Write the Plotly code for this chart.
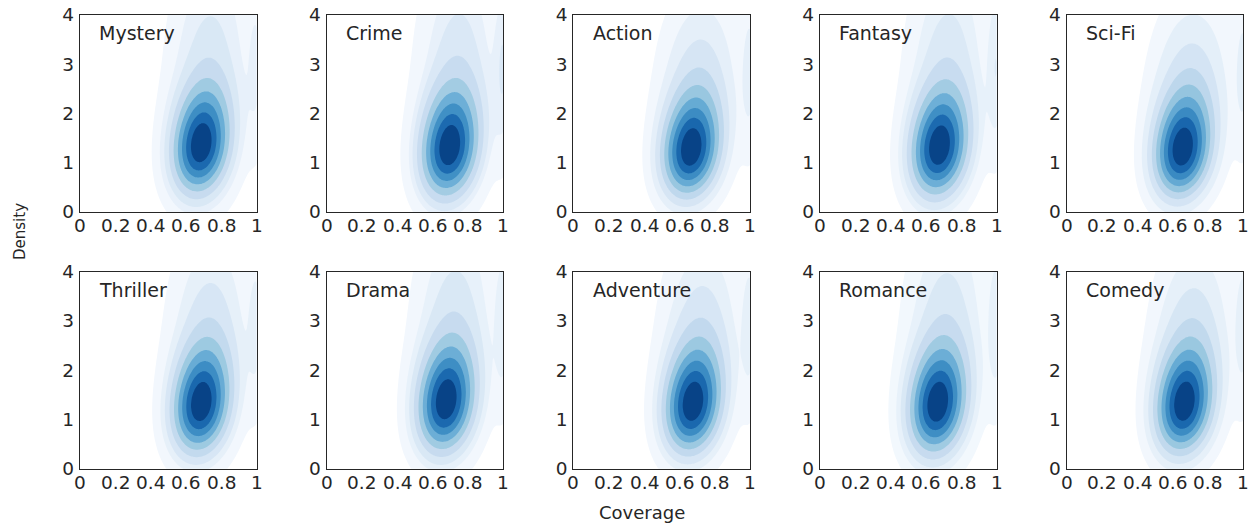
import numpy as np
import plotly.graph_objects as go

# ---------------- data ----------------
genres = ["Mystery", "Crime", "Action", "Fantasy", "Sci-Fi",
          "Thriller", "Drama", "Adventure", "Romance", "Comedy"]
peak_coverage = [0.68, 0.69, 0.66, 0.67, 0.65, 0.68, 0.67, 0.67, 0.66, 0.66]
peak_density = [1.40, 1.35, 1.30, 1.35, 1.30, 1.35, 1.40, 1.35, 1.35, 1.35]
spread = [1.00, 1.02, 0.96, 1.00, 0.97, 1.00, 1.02, 1.00, 1.02, 1.00]
tail = [1.00, 1.00, 0.85, 1.00, 0.80, 0.92, 0.97, 0.88, 0.97, 0.86]
edge_weight = [0.03, 0.045, 0.04, 0.045, 0.04, 0.035, 0.04, 0.04, 0.04, 0.04]

# shared mixture shape of the coverage/density cloud (offsets from the peak)
comp_dx = [0.0, 0.012, 0.05]
comp_dy = [-0.25, 0.35, 1.55]
comp_sx = [0.10, 0.105, 0.14]
comp_sy = [0.55, 0.65, 1.50]
comp_w = [0.31, 0.31, 0.36]
comp_rho = [0.15, 0.15, 0.10]
comp_is_tail = [False, False, True]
edge_cov, edge_sx, edge_dy, edge_sy = 1.0, 0.035, 1.6, 1.2

x_ticks = [0, 0.2, 0.4, 0.6, 0.8, 1]
x_tick_text = ["0", "0.2", "0.4", "0.6", "0.8", "1"]
y_ticks = [0, 1, 2, 3, 4]

# seaborn default iso-proportion levels
n_levels = 10
thresh = 0.05
iso = np.linspace(thresh, 1, n_levels)

BLUES = [(0.96862745, 0.98431373, 1.0), (0.87058824, 0.92156863, 0.96862745),
         (0.77647059, 0.85882353, 0.9372549), (0.61960784, 0.79215686, 0.88235294),
         (0.41960784, 0.68235294, 0.83921569), (0.25882353, 0.57254902, 0.77647059),
         (0.12941176, 0.44313725, 0.70980392), (0.03137255, 0.31764706, 0.61176471),
         (0.03137255, 0.18823529, 0.41960784)]


def blues(v):
    v = min(max(v, 0.0), 1.0)
    v = min(int(v * 256), 255) / 255.0
    pos = v * 8
    i = min(int(pos), 7)
    t = pos - i
    c = [BLUES[i][k] + (BLUES[i + 1][k] - BLUES[i][k]) * t for k in range(3)]
    return "rgb(%d,%d,%d)" % tuple(round(255 * ch) for ch in c)


def gauss2(X, Y, mx, my, sx, sy, rho):
    dx = (X - mx) / sx
    dy = (Y - my) / sy
    q = (dx * dx - 2 * rho * dx * dy + dy * dy) / (1 - rho * rho)
    return np.exp(-0.5 * q) / (2 * np.pi * sx * sy * np.sqrt(1 - rho * rho))


xs = np.linspace(-0.4, 1.6, 401)
ys = np.linspace(-3.5, 11.0, 581)
X, Y = np.meshgrid(xs, ys)

fig = go.Figure()

W, H = 1251, 523
col_left = [80, 326.7, 573.4, 820, 1066.6]
panel_w = 176.5
row_top = [15, 271.7]
panel_h = 197
TXT = "#262626"
FONT = "DejaVu Sans"
TICK_SIZE = 18.5


def px(p):
    return p / W


def py(p):
    return 1 - p / H


annotations = []
for i, g in enumerate(genres):
    cx, cy, s = peak_coverage[i], peak_density[i], spread[i]
    D = np.zeros_like(X)
    wsum = sum(comp_w) + edge_weight[i]
    for dx, dy, sx, sy, w, r, is_t in zip(comp_dx, comp_dy, comp_sx, comp_sy,
                                          comp_w, comp_rho, comp_is_tail):
        f = s * (tail[i] if is_t else 1.0)
        D += w * gauss2(X, Y, cx + dx, cy + dy * f, sx, sy * f, r)
    D += edge_weight[i] * gauss2(X, Y, edge_cov, cy + edge_dy, edge_sx, edge_sy, 0.0)
    D /= wsum

    vals = D.ravel()
    # seaborn: iso-proportion -> density levels
    sv = np.sort(vals)[::-1]
    normed = np.cumsum(sv) / vals.sum()
    idx = np.searchsorted(normed, 1 - iso)
    dlev = np.take(sv, idx, mode="clip")
    layers = 0.5 * (dlev[:-1] + dlev[1:])
    band_cols = [blues((l - dlev[0]) / (dlev[-1] - dlev[0])) for l in layers]

    # mass lying at lower density than each grid point (continuous, monotone in density)
    order = np.argsort(vals)
    cum = np.cumsum(vals[order]) / vals.sum()
    below = np.empty_like(vals)
    below[order] = cum - vals[order] / vals.sum()
    Z = ((below - thresh) / ((1 - thresh) / (n_levels - 1))).reshape(D.shape)

    nb = n_levels - 1
    cols = ["rgba(255,255,255,0)"] + band_cols
    cs = []
    for k, c in enumerate(cols):
        lo = max((k - 0.5) / nb, 0.0)
        hi = min((k + 0.5) / nb, 1.0)
        cs.append([lo, c])
        cs.append([hi, c])

    sfx = "" if i == 0 else str(i + 1)
    fig.add_trace(go.Contour(
        x=xs, y=ys, z=Z, xaxis="x" + sfx, yaxis="y" + sfx,
        autocontour=False,
        contours=dict(start=0, end=nb - 1, size=1, coloring="fill", showlines=False),
        line=dict(width=0), colorscale=cs, showscale=False, hoverinfo="skip",
    ))

    r, c = divmod(i, 5)
    axstyle = dict(showline=True, mirror=True, linecolor=TXT, linewidth=1.3,
                   showgrid=False, zeroline=False, ticks="", automargin=False,
                   ticklabeloverflow="allow",
                   tickfont=dict(family=FONT, size=TICK_SIZE, color=TXT))
    fig.update_layout(**{
        "xaxis" + sfx: dict(domain=[px(col_left[c]), px(col_left[c] + panel_w)],
                            anchor="y" + sfx, range=[0, 1], tickvals=x_ticks,
                            showticklabels=False, **axstyle),
        "yaxis" + sfx: dict(domain=[py(row_top[r] + panel_h), py(row_top[r])],
                            anchor="x" + sfx, range=[0, 4], ticklabelstandoff=1,
                            tickvals=y_ticks, **axstyle),
    })
    # x tick labels placed on the axis' own scale
    for tv, tt in zip(x_ticks, x_tick_text):
        annotations.append(dict(text=tt, x=tv, y=0, xref="x" + sfx, yref="y" + sfx,
                                xanchor="center", yanchor="middle", yshift=-14,
                                showarrow=False,
                                font=dict(family=FONT, size=TICK_SIZE, color=TXT)))
    annotations.append(dict(text=g, x=0.097, y=3.63, xref="x" + sfx, yref="y" + sfx,
                            xanchor="left", yanchor="middle", showarrow=False,
                            font=dict(family=FONT, size=19, color=TXT)))

annotations.append(dict(text="Coverage", x=px(642), y=py(512), xref="paper", yref="paper",
                        xanchor="center", yanchor="middle", showarrow=False,
                        font=dict(family=FONT, size=18, color=TXT)))
annotations.append(dict(text="Density", x=px(20), y=py(232), xref="paper", yref="paper",
                        xanchor="center", yanchor="middle", showarrow=False, textangle=-90,
                        font=dict(family=FONT, size=15, color=TXT)))

fig.update_layout(width=W, height=H, margin=dict(l=0, r=0, t=0, b=0),
                  paper_bgcolor="white", plot_bgcolor="white",
                  annotations=annotations, showlegend=False)
fig.write_html("out.html", config={"displayModeBar": False},
               post_script="document.body.style.margin='0';document.body.style.overflow='hidden';")
